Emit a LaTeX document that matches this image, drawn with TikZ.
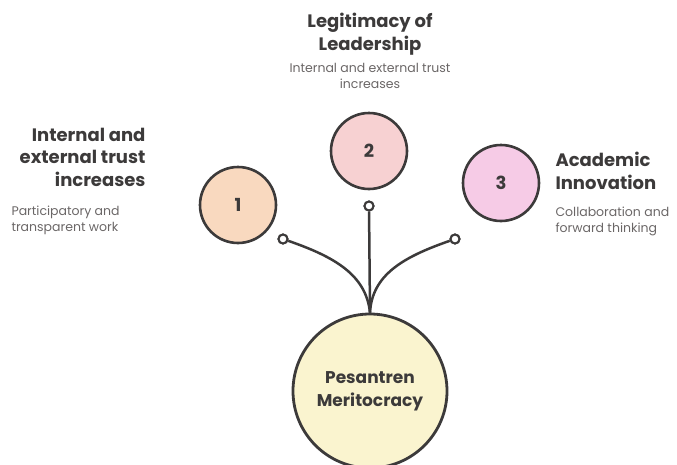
\documentclass[tikz,border=0pt]{standalone}
\usepackage{fontspec}
\setmainfont{Poppins}
\usetikzlibrary{positioning}
\definecolor{Ink}{HTML}{3C3A3A}
\definecolor{SubInk}{HTML}{6A6666}
\definecolor{Peach}{HTML}{F9D9BF}
\definecolor{Rose}{HTML}{F7D1D2}
\definecolor{Orchid}{HTML}{F6CBE6}
\definecolor{Cream}{HTML}{FAF4CF}
\tikzset{
  pillar/.style={
    circle, draw=Ink, line width=2.6pt, minimum size=76pt,
    inner sep=0pt, text=Ink, font=\fontsize{18}{20}\selectfont\bfseries
  },
  base/.style={
    circle, draw=Ink, line width=2.8pt, minimum size=154pt,
    inner sep=0pt, fill=Cream, align=center, text=Ink,
    font=\fontsize{17}{23}\selectfont\bfseries
  },
  pin/.style={
    circle, draw=Ink, line width=2pt, fill=white,
    minimum size=9pt, inner sep=0pt
  },
  heading/.style={text=Ink, font=\fontsize{18}{22.5}\selectfont\bfseries},
  note/.style={text=SubInk, font=\fontsize{12.5}{16}\selectfont},
  stem/.style={draw=Ink, line width=2.5pt}
}
\begin{document}
\begin{tikzpicture}[x=1pt,y=-1pt]
    \useasboundingbox (0,0) rectangle (677,464);
    \node[base] (meri) at (370,391) {Pesantren\\Meritocracy};
    \node[pillar,fill=Peach] (one) at (238,205) {1};
    \node[pillar,fill=Rose] (two) at (369,151) {2};
    \node[pillar,fill=Orchid] (three) at (501,183) {3};
    % pins at the stem ends
    \node[pin] (pinl) at (283,239) {};
    \node[pin] (pinm) at (369,206) {};
    \node[pin] (pinr) at (455,239) {};
    \draw[stem] (meri.north) .. controls (366,275) and (335,257) .. (pinl);
    \draw[stem] (meri.north) -- (pinm);
    \draw[stem] (meri.north) .. controls (372,275) and (403,257) .. (pinr);
    \node[pin] at (pinl) {};
    \node[pin] at (pinm) {};
    \node[pin] at (pinr) {};
    % texts
    \node[heading,align=right,anchor=east] (headl) at (149,157)
      {Internal and\\external trust\\increases};
    \node[note,align=left,anchor=west] (notel) at (8,220)
      {Participatory and\\transparent work};
    \node[heading,align=center] (headm) at (370,34)
      {Legitimacy of\\Leadership};
    \node[note,align=center,below=1pt of headm] (notem)
      {Internal and external trust\\increases};
    \node[heading,align=left,anchor=west] (headr) at (552,171)
      {Academic\\Innovation};
    \node[note,align=left,anchor=west] (noter) at (552,221)
      {Collaboration and\\forward thinking};
  \end{tikzpicture}
\end{document}
